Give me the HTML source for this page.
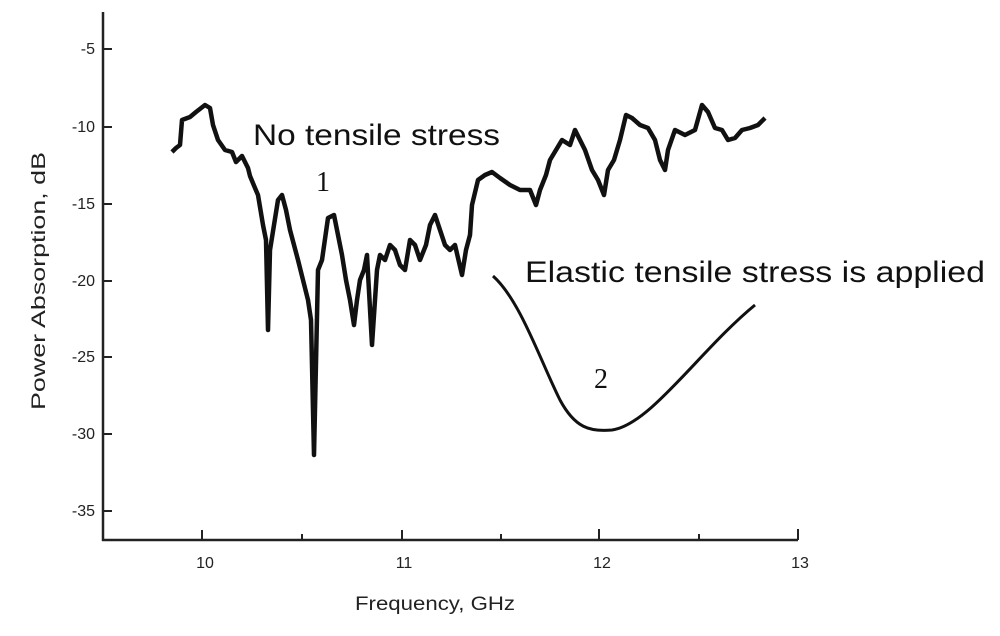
<!DOCTYPE html>
<html><head><style>html,body{margin:0;padding:0;background:#fff}</style></head><body>
<svg width="1000" height="631" xmlns="http://www.w3.org/2000/svg" font-family="Liberation Sans, sans-serif">
<rect width="1000" height="631" fill="#fff"/>
<g stroke="#222" stroke-width="2.5" fill="none">
<line x1="103" y1="12" x2="103" y2="541"/>
<line x1="102" y1="540" x2="798" y2="540"/>
</g>
<g stroke="#222" stroke-width="2">
<line x1="103" y1="49" x2="112" y2="49"/><line x1="103" y1="127" x2="112" y2="127"/>
<line x1="103" y1="204" x2="112" y2="204"/><line x1="103" y1="281" x2="112" y2="281"/>
<line x1="103" y1="357" x2="112" y2="357"/><line x1="103" y1="434" x2="112" y2="434"/>
<line x1="103" y1="511" x2="112" y2="511"/>
<line x1="202" y1="540" x2="202" y2="530"/><line x1="302" y1="540" x2="302" y2="534"/>
<line x1="402" y1="540" x2="402" y2="530"/><line x1="501" y1="540" x2="501" y2="534"/>
<line x1="599" y1="540" x2="599" y2="529"/><line x1="699" y1="540" x2="699" y2="534"/>
<line x1="798" y1="540" x2="798" y2="529"/>
</g>
<g font-size="16" fill="#222" text-anchor="end">
<text x="95" y="54">-5</text><text x="95" y="132">-10</text><text x="95" y="209">-15</text>
<text x="95" y="286">-20</text><text x="95" y="362">-25</text><text x="95" y="439">-30</text>
<text x="95" y="516">-35</text>
</g>
<g font-size="16" fill="#222" text-anchor="middle">
<text x="205" y="568">10</text><text x="404" y="568">11</text><text x="602" y="568">12</text><text x="800" y="568">13</text>
</g>
<text x="355" y="610" font-size="19" fill="#222" textLength="160" lengthAdjust="spacingAndGlyphs">Frequency, GHz</text>
<text transform="translate(45,410) rotate(-90)" font-size="19" fill="#222" textLength="258" lengthAdjust="spacingAndGlyphs">Power Absorption, dB</text>
<polyline fill="none" stroke="#111" stroke-width="4.5" stroke-linejoin="round" points="172,152 176,148 180,145 182,120 190,117 196,112 205,105 210,108 213,125 218,140 225,150 232,152 236,162 242,156 248,168 250,176 255,188 258,195 263,225 266,240 268,330 270,250 274,225 278,200 282,195 286,210 290,230 294,245 298,260 303,280 308,300 311,320 314,455 318,270 322,260 328,218 334,215 338,235 342,255 346,280 350,300 354,325 357,300 360,280 364,270 367,255 372,345 377,270 380,255 385,260 390,245 395,250 400,265 405,270 410,240 415,245 420,260 426,245 430,225 435,215 440,230 445,245 450,250 455,245 462,275 466,250 470,235 472,205 478,180 485,175 492,172 500,178 510,185 520,190 530,190 536,205 540,190 546,175 550,160 556,150 562,140 570,145 575,130 580,140 585,150 592,170 598,180 604,195 608,170 614,160 620,140 626,115 632,118 640,125 648,128 655,140 660,160 665,170 668,150 675,130 685,135 695,130 702,105 708,112 715,128 722,130 728,140 735,138 742,130 750,128 758,125 765,118"/>
<path d="M493,276 C520,300 540,360 560,400 C575,428 590,432 612,430 C650,425 700,350 755,305" fill="none" stroke="#111" stroke-width="3"/>
<text x="253" y="145" font-size="30" fill="#111" textLength="247" lengthAdjust="spacingAndGlyphs">No tensile stress</text>
<text x="316" y="191" font-size="28" fill="#111" font-family="Liberation Serif, serif">1</text>
<text x="525" y="282" font-size="30" fill="#111" textLength="460" lengthAdjust="spacingAndGlyphs">Elastic tensile stress is applied</text>
<text x="594" y="388" font-size="28" fill="#111" font-family="Liberation Serif, serif">2</text>
</svg>
</body></html>
